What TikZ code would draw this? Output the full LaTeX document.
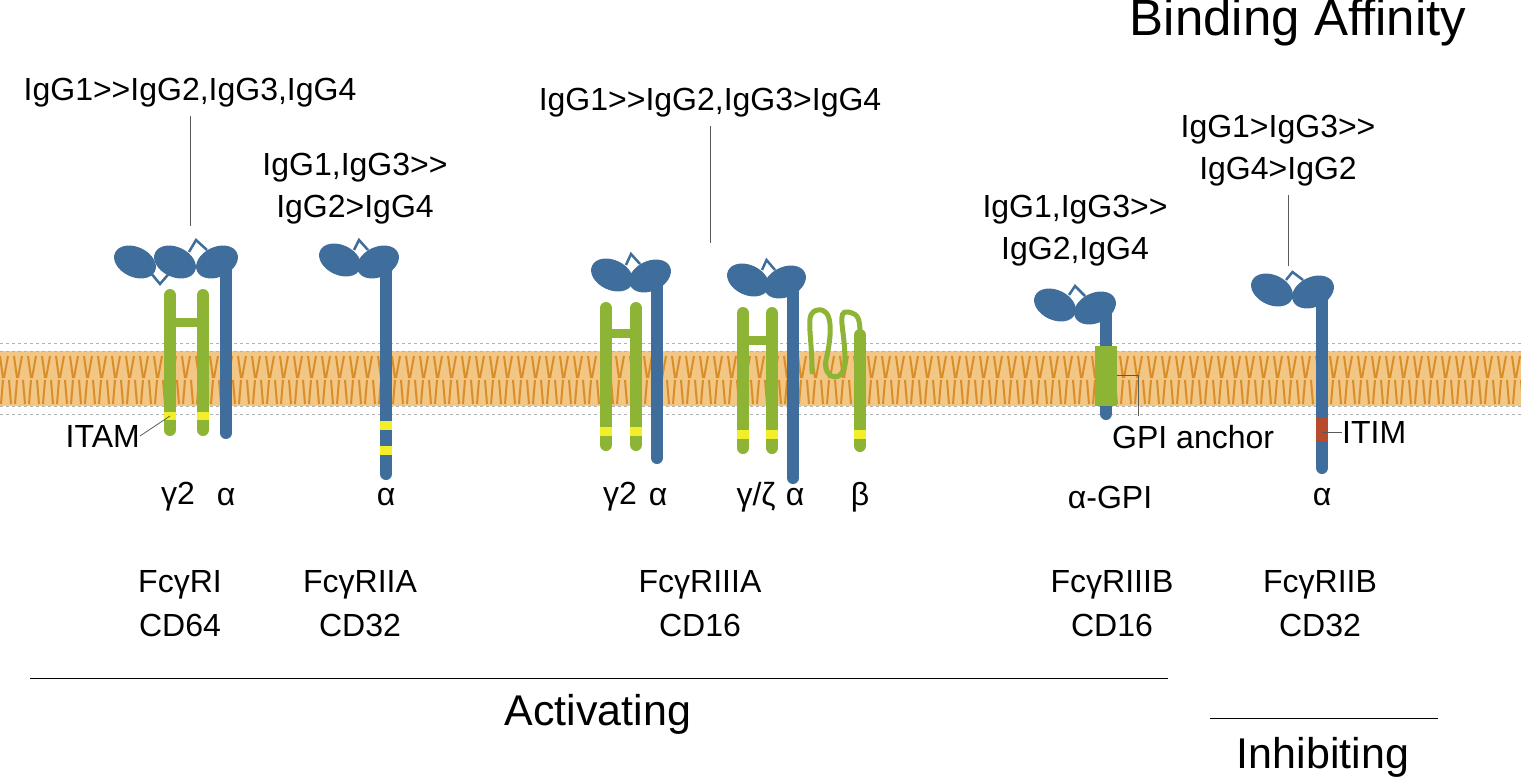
\documentclass[tikz,border=0pt]{standalone}
\usepackage{fontspec}
\setmainfont{Liberation Sans}[Ligatures=NoCommon]
\newcommand\mygg{>\kern0pt>}
\begin{document}
\begin{tikzpicture}[x=1pt,y=-1pt,
  lbl/.style={font=\fontsize{32}{38}\selectfont,align=center,inner sep=0},
  big/.style={font=\fontsize{51}{56}\selectfont,inner sep=0},
  blue/.style={line width=12pt,draw=rblue,line cap=round},
  grn/.style={line width=12pt,draw=rgreen,line cap=round},
  band/.style={line width=12pt,draw=#1},
  ptr/.style={draw=gray!70!black,line width=0.8pt}]
\definecolor{rblue}{HTML}{3F6E9C}
\definecolor{rgreen}{HTML}{8DB435}
\definecolor{ryel}{HTML}{F2EE2A}
\definecolor{rred}{HTML}{B84A2E}
\definecolor{mem}{HTML}{F2C685}
\definecolor{lip}{HTML}{D98E2A}
\useasboundingbox (0,0) rectangle (1521,781);
% membrane
\fill[mem] (0,350) rectangle (1521,408);
\foreach \x in {0,14,...,1520}{
  \draw[lip,line width=2pt] (\x,356) -- (\x+3,378) (\x+8,356) -- (\x+4,378)
     (\x+3,380) -- (\x+1,404) (\x+9,380) -- (\x+11,404);
}
\fill[white] (0,343) rectangle (1521,351) (0,406) rectangle (1521,414);
\draw[gray!60,dashed,line width=0.7pt] (0,343) -- (1521,343) (0,351) -- (1521,351) (0,406) -- (1521,406) (0,414) -- (1521,414);
% head macro
\newcommand\rhead[5]{% x1 y1 x2 y2 peaky
  \draw[rblue,line width=2.5pt] (#1+14,#2-10) -- ({(#1+#3)/2},#5) -- (#3-10,#4-12);
  \fill[rblue,rotate around={-25:(#1,#2)}] (#1,#2) ellipse (22 and 15);
  \fill[rblue,rotate around={25:(#3,#4)}] (#3,#4) ellipse (22 and 15);}
% FcgRI
\draw[rblue,line width=2.5pt] (150,272) -- (160,284) -- (172,270);
\fill[rblue,rotate around={-25:(135,262)}] (135,262) ellipse (22 and 15);
\rhead{175}{262}{217}{262}{240}
\draw[blue] (226,265) -- (226,433);
\draw[grn] (170,295) -- (170,430) (203,295) -- (203,430);
\draw[rgreen,line width=9pt] (170,322) -- (203,322);
\draw[band=ryel] (170,412) -- (170,420) (203,412) -- (203,420);
% FcgRIIA
\rhead{340}{260}{378}{262}{240}
\draw[blue] (386,265) -- (386,474);
\draw[band=ryel] (386,421) -- (386,430) (386,446) -- (386,455);
% FcgRIIIA left
\rhead{612}{275}{650}{276}{254}
\draw[blue] (657,280) -- (657,458);
\draw[grn] (606,308) -- (606,445) (636,308) -- (636,445);
\draw[rgreen,line width=9pt] (606,333) -- (636,333);
\draw[band=ryel] (606,427) -- (606,436) (636,427) -- (636,436);
% FcgRIIIA right
\rhead{748}{280}{785}{282}{260}
\draw[blue] (793,285) -- (793,478);
\draw[grn] (743,313) -- (743,448) (772,313) -- (772,448);
\draw[rgreen,line width=9pt] (743,340) -- (772,340);
\draw[band=ryel] (743,430) -- (743,439) (772,430) -- (772,439);
% beta loops
\draw[rgreen,line width=5pt,line cap=round] (812,372) .. controls (812,330) and (804,312) .. (818,310)
  .. controls (832,308) and (833,330) .. (826,360) .. controls (822,380) and (845,385) .. (845,360)
  .. controls (845,330) and (836,310) .. (848,312) .. controls (860,314) and (860,320) .. (860,340);
\draw[grn] (860,335) -- (860,446);
\draw[band=ryel] (860,430) -- (860,439);
% FcgRIIIB
\rhead{1055}{305}{1095}{308}{286}
\draw[blue] (1106,312) -- (1106,414);
\fill[rgreen] (1095,346) rectangle (1117,406);
\draw[ptr] (1117,375) -- (1138,375) -- (1138,416);
\node[lbl,anchor=west] (gpi) at (1112,437) {GPI anchor};
% FcgRIIB
\rhead{1272}{290}{1313}{292}{272}
\draw[blue] (1322,296) -- (1322,468);
\draw[band=rred] (1322,418) -- (1322,441);
\coordinate (itimp) at (1322,432);
\node[lbl,anchor=west] (itim) at (1342,432) {ITIM};
\draw[ptr] (itimp) -- (itim.west);
% ITAM
\node[lbl,anchor=east] (itam) at (140,436) {ITAM};
\coordinate (itamp) at (170,416);
\draw[ptr] (itam.east) -- (itamp);
% chain labels
\node[lbl] (l1) at (178,497) {γ2};
\node[lbl] (l2) at (226,497) {α};
\node[lbl] (l3) at (386,497) {α};
\node[lbl] (l4) at (620,497) {γ2};
\node[lbl] (l5) at (658,497) {α};
\node[lbl] (l6) at (756,497) {γ/ζ};
\node[lbl] (l7) at (795,497) {α};
\node[lbl] (l8) at (860,497) {β};
\node[lbl] (l9) at (1110,497) {α-GPI};
\node[lbl] (l10) at (1322,497) {α};
% names
\node[lbl] (n1) at (180,604) {FcγRI\\[6pt]CD64};
\node[lbl] (n2) at (360,604) {FcγRIIA\\[6pt]CD32};
\node[lbl] (n3) at (700,604) {FcγRIIIA\\[6pt]CD16};
\node[lbl] (n4) at (1112,604) {FcγRIIIB\\[6pt]CD16};
\node[lbl] (n5) at (1320,604) {FcγRIIB\\[6pt]CD32};
% affinities
\node[lbl] (a1) at (190,93) {IgG1\mygg IgG2,IgG3,IgG4};
\coordinate (a1p) at (190,226);
\draw[ptr] (190,116) -- (a1p);
\node[lbl] (a2) at (355,189) {IgG1,IgG3\mygg\\[4pt]IgG2>IgG4};
\node[lbl] (a3) at (710,103) {IgG1\mygg IgG2,IgG3>IgG4};
\coordinate (a3p) at (710,243);
\draw[ptr] (710,126) -- (a3p);
\node[lbl] (a4) at (1075,231) {IgG1,IgG3\mygg\\[4pt]IgG2,IgG4};
\node[lbl] (a5) at (1278,151) {IgG1>IgG3\mygg\\[4pt]IgG4>IgG2};
\coordinate (a5p) at (1288,266);
\draw[ptr] (1288,195) -- (a5p);
\node[big] (ba) at (1298,22) {Binding Affinity};
% bottom
\draw[line width=1pt] (30,678) -- (1168,678);
\node[big,font=\fontsize{43}{48}\selectfont] (act) at (598,714) {Activating};
\draw[line width=1pt] (1210,718) -- (1438,718);
\node[big,font=\fontsize{43}{48}\selectfont] (inh) at (1323,757) {Inhibiting};
\end{tikzpicture}
\end{document}
